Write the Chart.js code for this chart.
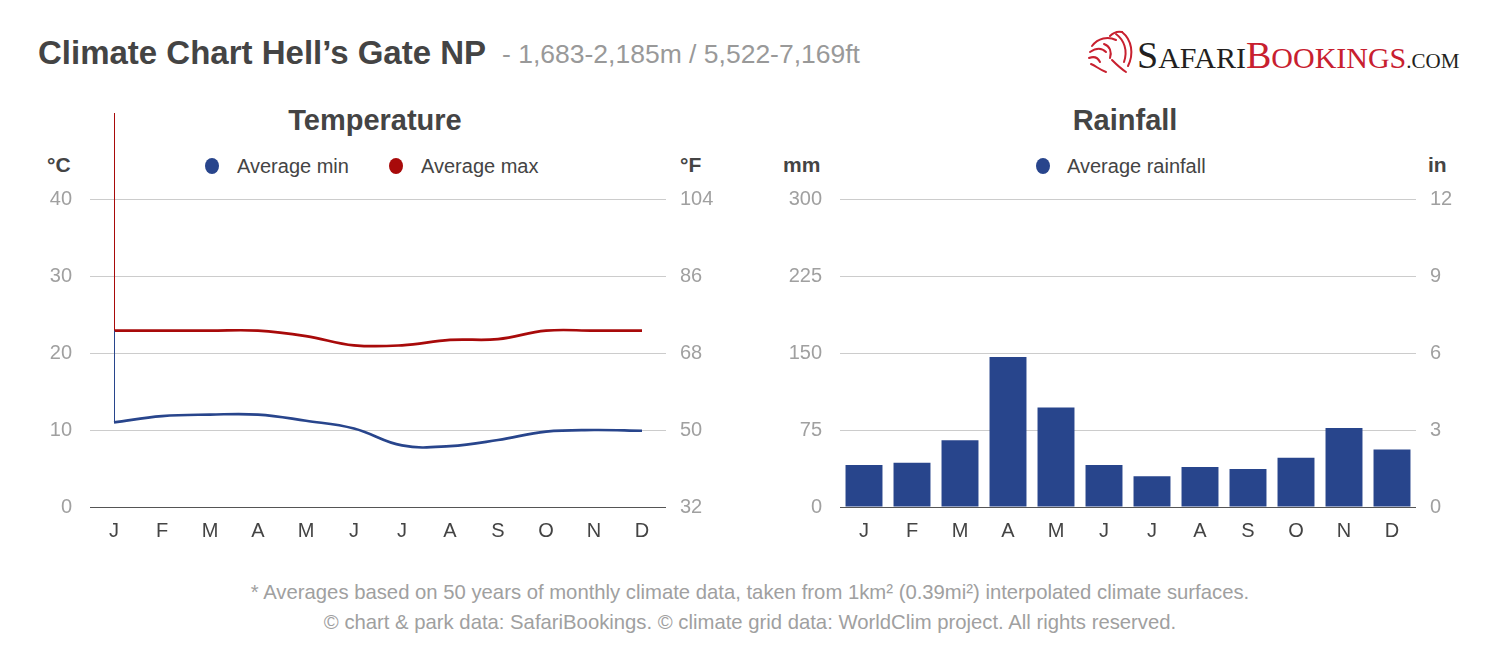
<!DOCTYPE html>
<html>
<head>
<meta charset="utf-8">
<script src="https://cdn.jsdelivr.net/npm/chart.js@4.4.1/dist/chart.umd.min.js"></script>
<style>
  body { margin: 0; background: #fff; font-family: "Liberation Sans", Arial, sans-serif; }
  #page { position: relative; width: 1500px; height: 652px; overflow: hidden; background: #fff; }
  .abs { position: absolute; white-space: nowrap; }
  .ttl { font-weight: bold; color: #444; }
  .unit { font-weight: bold; font-size: 21px; color: #444; line-height: 24px; }
  .leg { font-size: 20px; color: #444; line-height: 24px; }
  .dot { position: absolute; width: 14px; height: 16px; border-radius: 50%; }
  .foot { font-size: 20.3px; color: #a0a0a0; line-height: 24px; left: 0; width: 1500px; text-align: center; }
  canvas { position: absolute; top: 100px; }
</style>
</head>
<body>
<div id="page">
  <div class="abs ttl" style="left:38px;top:33px;font-size:33px;line-height:40px;">Climate Chart Hell’s Gate NP</div>
  <div class="abs" style="left:502px;top:38px;font-size:26.5px;line-height:32px;color:#999;">- 1,683-2,185m / 5,522-7,169ft</div>

  <svg class="abs" style="left:1086px;top:30px;" width="50" height="46" viewBox="0 0 50 46">
    <g fill="none" stroke="#c8202f" stroke-width="2" stroke-linecap="round">
      <path d="M6 16 C12 8 22 6 30 10"/>
      <path d="M4 22 C10 18 16 18 20 22"/>
      <path d="M3 28 C8 26 12 28 14 32"/>
      <path d="M5 34 C10 36 14 40 20 42"/>
      <path d="M18 14 C24 16 26 22 24 28"/>
      <path d="M30 4 C38 10 42 20 38 32"/>
      <path d="M36 2 C46 10 48 24 42 36"/>
      <path d="M26 30 C30 34 34 38 40 42"/>
      <path d="M24 6 C28 2 32 1 36 2"/>
    </g>
  </svg>
  <div class="abs" style="left:1137px;top:36px;line-height:38px;font-family:'Liberation Serif','DejaVu Serif',serif;">
    <span style="font-size:38px;color:#231f20;">S</span><span style="font-size:30px;color:#231f20;">AFARI</span><span style="font-size:38px;color:#c8202f;">B</span><span style="font-size:30px;color:#c8202f;">OOKINGS</span><span style="font-size:21px;color:#231f20;">.COM</span>
  </div>

  <div class="abs ttl" style="left:0;width:750px;text-align:center;top:104px;font-size:29px;line-height:32px;">Temperature</div>
  <div class="abs ttl" style="left:750px;width:750px;text-align:center;top:104px;font-size:29px;line-height:32px;">Rainfall</div>

  <div class="abs unit" style="left:47px;top:153px;">°C</div>
  <div class="abs unit" style="left:680px;top:153px;">°F</div>
  <div class="abs unit" style="left:783px;top:153px;">mm</div>
  <div class="abs unit" style="left:1428px;top:153px;">in</div>

  <div class="dot" style="left:205px;top:158px;background:#28458c;"></div>
  <div class="abs leg" style="left:237px;top:154px;">Average min</div>
  <div class="dot" style="left:389px;top:158px;background:#a80a0a;"></div>
  <div class="abs leg" style="left:421px;top:154px;">Average max</div>
  <div class="dot" style="left:1036px;top:158px;background:#28458c;"></div>
  <div class="abs leg" style="left:1067px;top:154px;">Average rainfall</div>

  <canvas id="temp" width="750" height="470" style="left:0;"></canvas>
  <canvas id="rain" width="750" height="470" style="left:750px;"></canvas>

  <div class="abs foot" style="top:580px;">* Averages based on 50 years of monthly climate data, taken from 1km² (0.39mi²) interpolated climate surfaces.</div>
  <div class="abs foot" style="top:610px;">© chart &amp; park data: SafariBookings. © climate grid data: WorldClim project. All rights reserved.</div>
</div>

<script>
const months = ['J', 'F', 'M', 'A', 'M', 'J', 'J', 'A', 'S', 'O', 'N', 'D'];
const avgMin = [11.0, 11.8, 12.0, 12.0, 11.2, 10.2, 8.0, 7.9, 8.7, 9.8, 10.0, 9.9];
const avgMax = [22.9, 22.9, 22.9, 22.9, 22.2, 21.0, 21.0, 21.7, 21.8, 22.9, 22.9, 22.9];
const rainfall = [41, 43, 65, 146, 97, 41, 30, 39, 37, 48, 77, 56];

const tempTicksC = [0, 10, 20, 30, 40];
const tempTicksF = [32, 50, 68, 86, 104];
const rainTicksMm = [0, 75, 150, 225, 300];
const rainTicksIn = [0, 3, 6, 9, 12];

const BLUE = '#28458c';
const RED = '#a80a0a';
const TICK_FONT = { family: "'Liberation Sans', Arial, sans-serif", size: 20 };

function gridColor(ctx) {
  return ctx.tick && ctx.tick.value === 0 ? '#555' : '#cccccc';
}

function yLeft(ticks) {
  return {
    position: 'left',
    min: ticks[0], max: ticks[ticks.length - 1],
    afterBuildTicks: s => { s.ticks = ticks.map(v => ({ value: v })); },
    afterFit: s => { s.width = 60; },
    border: { display: false },
    grid: { color: gridColor, lineWidth: 1, drawTicks: false },
    ticks: { color: '#a0a0a0', font: TICK_FONT, padding: 18 }
  };
}

function yRight(ticks) {
  return {
    position: 'right',
    display: true,
    min: ticks[0], max: ticks[ticks.length - 1],
    afterBuildTicks: s => { s.ticks = ticks.map(v => ({ value: v })); },
    afterFit: s => { s.width = 84; },
    border: { display: false },
    grid: { drawOnChartArea: false, drawTicks: false },
    ticks: { color: '#a0a0a0', font: TICK_FONT, padding: 14 }
  };
}

const xAxis = {
  offset: true,
  afterFit: s => { s.height = 48; },
  border: { display: false },
  grid: { display: false, drawTicks: false },
  ticks: { color: '#444', font: TICK_FONT, padding: 12, autoSkip: false, maxRotation: 0 }
};

const common = {
  responsive: false,
  animation: false,
  devicePixelRatio: 1,
  layout: { padding: { top: 99, bottom: 15, left: 30, right: 0 } },
  plugins: { legend: { display: false }, title: { display: false }, tooltip: { enabled: false } }
};

// the stray vertical stroke at the start of the lines, as in the original
const startStroke = {
  id: 'startStroke',
  afterDatasetsDraw(chart) {
    const { ctx, scales } = chart;
    const x = Math.round(scales.x.getPixelForValue(0)) + 0.5;
    const yMax = scales.y.getPixelForValue(avgMax[0]);
    const yMin = scales.y.getPixelForValue(avgMin[0]);
    ctx.save();
    ctx.lineWidth = 1;
    ctx.strokeStyle = RED;
    ctx.beginPath(); ctx.moveTo(x, 13); ctx.lineTo(x, yMax); ctx.stroke();
    ctx.strokeStyle = BLUE;
    ctx.beginPath(); ctx.moveTo(x, yMax); ctx.lineTo(x, yMin); ctx.stroke();
    ctx.restore();
  }
};

new Chart(document.getElementById('temp'), {
  type: 'line',
  data: {
    labels: months,
    datasets: [
      { label: 'Average min', data: avgMin, borderColor: BLUE, backgroundColor: BLUE, borderWidth: 2.7, pointRadius: 0, tension: 0.4, yAxisID: 'y' },
      { label: 'Average max', data: avgMax, borderColor: RED, backgroundColor: RED, borderWidth: 2.7, pointRadius: 0, tension: 0.4, yAxisID: 'y' }
    ]
  },
  options: Object.assign({}, common, {
    scales: { x: xAxis, y: yLeft(tempTicksC), y2: yRight(tempTicksF) }
  }),
  plugins: [startStroke]
});

new Chart(document.getElementById('rain'), {
  type: 'bar',
  data: {
    labels: months,
    datasets: [
      { label: 'Average rainfall', data: rainfall, backgroundColor: BLUE, barPercentage: 0.77, categoryPercentage: 1.0, yAxisID: 'y' }
    ]
  },
  options: Object.assign({}, common, {
    scales: { x: xAxis, y: yLeft(rainTicksMm), y2: yRight(rainTicksIn) }
  })
});
</script>
</body>
</html>
